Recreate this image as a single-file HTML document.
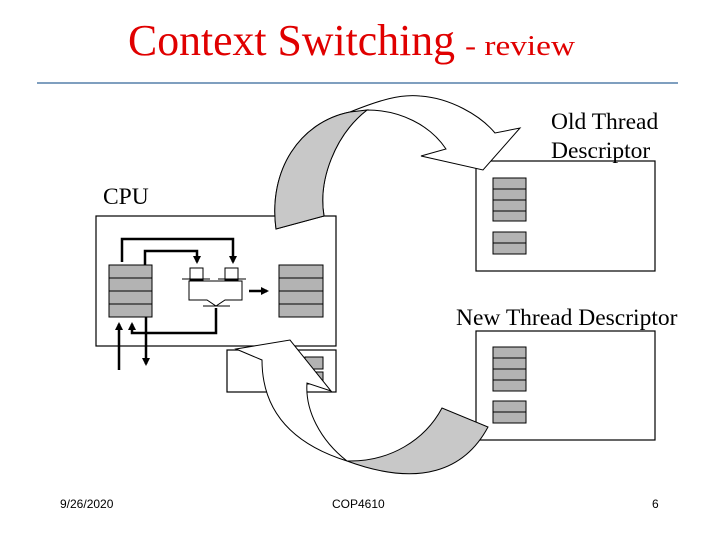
<!DOCTYPE html>
<html><head><meta charset="utf-8"><style>html,body{margin:0;padding:0;background:#fff}svg{display:block}.s{font-family:"Liberation Serif",serif}.a{font-family:"Liberation Sans",sans-serif}</style></head>
<body>
<svg width="720" height="540" viewBox="0 0 720 540" xmlns="http://www.w3.org/2000/svg">
<defs>
<marker id="ah" markerWidth="8" markerHeight="8" refX="6" refY="4" orient="auto" markerUnits="userSpaceOnUse"><path d="M0,0 L8,4 L0,8 z" fill="#000"/></marker>
</defs>
<text class="s" x="128" y="55" font-size="44" fill="#e00000" textLength="327" lengthAdjust="spacingAndGlyphs">Context Switching</text>
<text class="s" x="465" y="55" font-size="29" fill="#e00000" textLength="110" lengthAdjust="spacingAndGlyphs">- review</text>
<line x1="37" y1="83" x2="678" y2="83" stroke="#7f9fbf" stroke-width="2"/>

<g fill="#fff" stroke="#000" stroke-width="1.2">
<rect x="476" y="161" width="179" height="110"/>
<rect x="476" y="331" width="179" height="109"/>
<rect x="96" y="216" width="240" height="130"/>
<rect x="227" y="350" width="109" height="42"/>
</g>
<g fill="#b3b3b3" stroke="#000" stroke-width="1">
<rect x="493" y="178" width="33" height="11"/><rect x="493" y="189" width="33" height="11"/><rect x="493" y="200" width="33" height="11"/><rect x="493" y="211" width="33" height="10"/>
<rect x="493" y="232" width="33" height="11"/><rect x="493" y="243" width="33" height="11"/>
<rect x="493" y="347" width="33" height="11"/><rect x="493" y="358" width="33" height="11"/><rect x="493" y="369" width="33" height="11"/><rect x="493" y="380" width="33" height="11"/>
<rect x="493" y="401" width="33" height="11"/><rect x="493" y="412" width="33" height="11"/>
<rect x="109" y="265" width="43" height="13"/><rect x="109" y="278" width="43" height="13"/><rect x="109" y="291" width="43" height="13"/><rect x="109" y="304" width="43" height="13"/>
<rect x="279" y="265" width="44" height="13"/><rect x="279" y="278" width="44" height="13"/><rect x="279" y="291" width="44" height="13"/><rect x="279" y="304" width="44" height="13"/>
<rect x="305" y="357" width="18" height="12"/><rect x="305" y="372" width="18" height="12"/>
</g>
<g fill="#fff" stroke="#000" stroke-width="1">
<rect x="190" y="268" width="13" height="12"/><rect x="225" y="268" width="13" height="12"/>
<path d="M189,281 L242,281 L242,300 L225,300 L216,306 L207,300 L189,300 Z"/>
<line x1="182" y1="279" x2="210" y2="279"/><line x1="218" y1="279" x2="246" y2="279"/>
<line x1="203" y1="306" x2="230" y2="306"/>
</g>
<g fill="none" stroke="#000" stroke-width="2.5">
<polyline points="122,262 122,239 233,239 233,262" marker-end="url(#ah)"/>
<polyline points="145,265 145,251 197,251 197,262" marker-end="url(#ah)"/>
<polyline points="216,308 216,333 132,333 132,324" marker-end="url(#ah)"/>
<line x1="119" y1="370" x2="119" y2="324" marker-end="url(#ah)"/>
<line x1="146" y1="317" x2="146" y2="364" marker-end="url(#ah)"/>
<line x1="249" y1="291" x2="267" y2="291" marker-end="url(#ah)"/>
</g>

<!-- top curved arrow -->
<path d="M276,229 C268,170 300,122 350,112 C380,100 400,94 420,96 C450,98 480,115 495,133 L520,128 L483,170 L421,156 L446,149 C430,125 400,110 367,110 C335,135 318,180 324,216 Z" fill="#fff" stroke="#000" stroke-width="1"/>
<path d="M276,229 C268,170 300,122 350,112 L367,110 C335,135 318,180 324,216 Z" fill="#c8c8c8" stroke="#000" stroke-width="1"/>

<!-- bottom curved arrow -->
<path d="M236,349 L262,360 C262,400 280,440 347,461 C320,440 305,410 307,383 L331,391 L290,340 Z" fill="#fff" stroke="#000" stroke-width="1"/>
<path d="M347,461 C390,462 425,440 442,408 L488,427 C465,470 420,488 347,461 Z" fill="#c8c8c8" stroke="#000" stroke-width="1"/>

<g class="s" font-size="23.5" fill="#000">
<text x="551" y="129">Old Thread</text>
<text x="551" y="158">Descriptor</text>
<text x="103" y="204">CPU</text>
<text x="456" y="325">New Thread Descriptor</text>
</g>
<g class="a" font-size="12" fill="#000">
<text x="60" y="508">9/26/2020</text>
<text x="332" y="508">COP4610</text>
<text x="652" y="508">6</text>
</g>
</svg>
</body></html>
